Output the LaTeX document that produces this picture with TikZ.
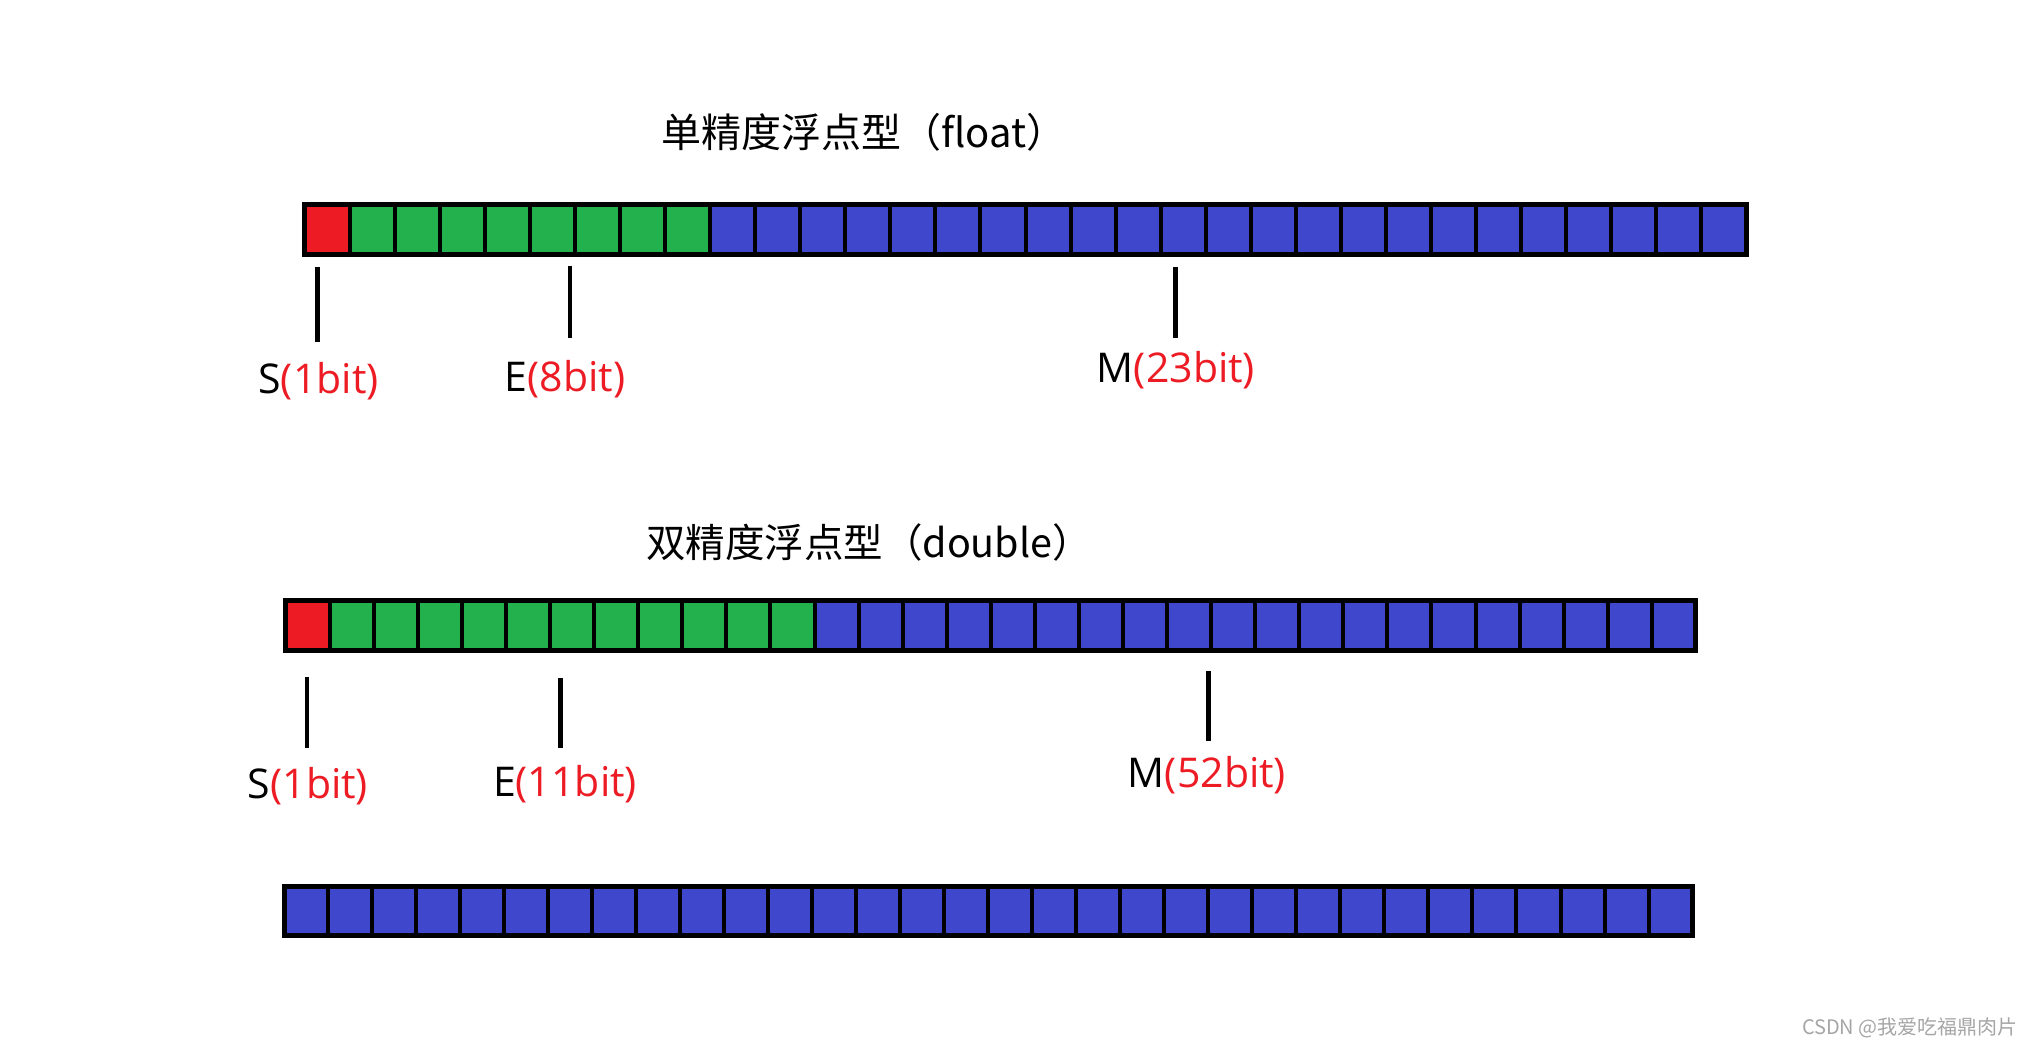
\documentclass[tikz,border=0pt]{standalone}
\usepackage{fontspec}
\newfontfamily\cjk{Noto Sans CJK SC}
\newfontfamily\lat{Open Sans}
\definecolor{cred}{HTML}{ED1C24}
\definecolor{cgreen}{HTML}{22B14C}
\definecolor{cblue}{HTML}{3F48CC}
\begin{document}
\begin{tikzpicture}[x=1pt,y=-1pt,
  cell/.style={draw=black,line width=4pt},
  frame/.style={draw=black,line width=5pt},
  tick/.style={draw=black,line width=4.3pt},
  lbl/.style={inner sep=0pt,font=\lat\fontsize{41}{49}\selectfont},
  ttl/.style={inner sep=0pt,font=\cjk\fontsize{39.5}{47}\selectfont}]
\useasboundingbox[fill=white] (0,0) rectangle (2032,1048);

% titles
\node[ttl,font=\cjk\fontsize{40}{48}\selectfont] (t1) at (864,132) {单精度浮点型（float）};
\node[ttl] (t2) at (869,542) {双精度浮点型（double）};

% float bar: 1 red, 8 green, 23 blue
\foreach \i in {0,...,31}{
  \pgfmathsetmacro\xa{304.5+\i*45.0625}
  \pgfmathsetmacro\xb{304.5+(\i+1)*45.0625}
  \ifnum\i=0 \def\cc{cred}\else\ifnum\i<9 \def\cc{cgreen}\else\def\cc{cblue}\fi\fi
  \draw[cell,fill=\cc] (\xa,204.5) rectangle (\xb,254.5);
}
\coordinate (fbA) at (304.5,204.5);
\coordinate (fbB) at (1746.5,254.5);
\draw[frame] (fbA) rectangle (fbB);

% double bar row 1: 1 red, 11 green, 20 blue
\foreach \i in {0,...,31}{
  \pgfmathsetmacro\xa{285.8+\i*44.0625}
  \pgfmathsetmacro\xb{285.8+(\i+1)*44.0625}
  \ifnum\i=0 \def\cc{cred}\else\ifnum\i<12 \def\cc{cgreen}\else\def\cc{cblue}\fi\fi
  \draw[cell,fill=\cc] (\xa,600.8) rectangle (\xb,650.8);
}
\coordinate (dbA) at (285.8,600.8);
\coordinate (dbB) at (1695.8,650.8);
\draw[frame] (dbA) rectangle (dbB);

% double bar row 2: 32 blue
\foreach \i in {0,...,31}{
  \pgfmathsetmacro\xa{284.2+\i*44.01}
  \pgfmathsetmacro\xb{284.2+(\i+1)*44.01}
  \draw[cell,fill=cblue] (\xa,886.5) rectangle (\xb,935.8);
}
\coordinate (ebA) at (284.2,886.5);
\coordinate (ebB) at (1692.5,935.8);
\draw[frame] (ebA) rectangle (ebB);

% float ticks
\coordinate (fs1) at (317.5,267); \coordinate (fs2) at (317.5,342);
\coordinate (fe1) at (570,266);   \coordinate (fe2) at (570,338);
\coordinate (fm1) at (1175.5,267); \coordinate (fm2) at (1175.5,338);
\draw[tick] (fs1) -- (fs2);
\draw[tick] (fe1) -- (fe2);
\draw[tick] (fm1) -- (fm2);

% double ticks
\coordinate (ds1) at (307,677); \coordinate (ds2) at (307,748);
\coordinate (de1) at (560.5,678); \coordinate (de2) at (560.5,748);
\coordinate (dm1) at (1208.5,671); \coordinate (dm2) at (1208.5,741);
\draw[tick] (ds1) -- (ds2);
\draw[tick] (de1) -- (de2);
\draw[tick] (dm1) -- (dm2);

% float labels
\node[lbl] (fS) at (318.5,381) {S\textcolor{cred}{(1bit)}};
\node[lbl] (fE) at (565,379) {E\textcolor{cred}{(8bit)}};
\node[lbl] (fM) at (1176,370) {M\textcolor{cred}{(23bit)}};

% double labels
\node[lbl] (dS) at (308,786) {S\textcolor{cred}{(1bit)}};
\node[lbl] (dE) at (565,784) {E\textcolor{cred}{(11bit)}};
\node[lbl] (dM) at (1207,775) {M\textcolor{cred}{(52bit)}};

% watermark
\node[inner sep=0pt,anchor=east,font=\cjk\fontsize{20}{24}\selectfont,text=black!35] (wm) at (2018,1028) {CSDN @我爱吃福鼎肉片};
\end{tikzpicture}
\end{document}
